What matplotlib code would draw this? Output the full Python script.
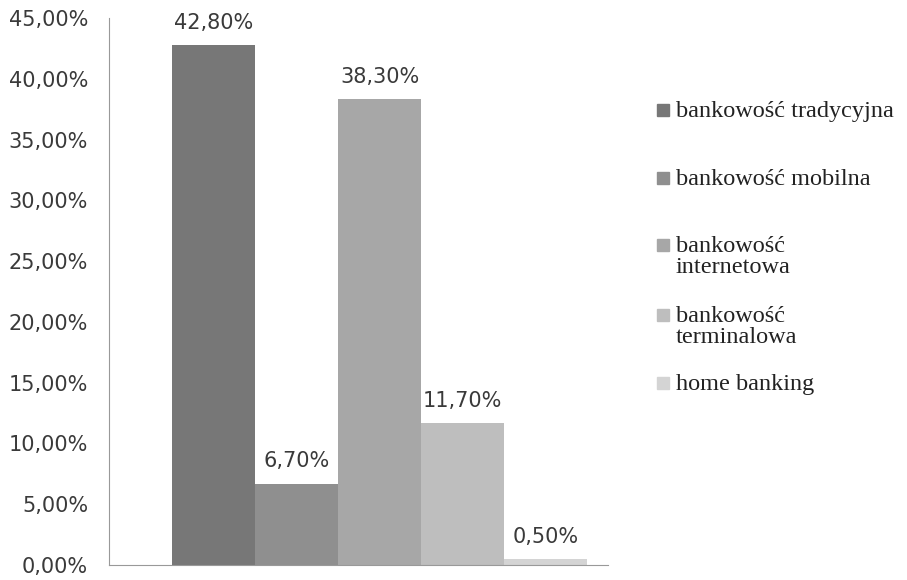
import matplotlib
matplotlib.use("Agg")
import matplotlib.pyplot as plt
from matplotlib.patches import Rectangle
from matplotlib.ticker import FuncFormatter

categories = ["bankowość tradycyjna", "bankowość mobilna", "bankowość\ninternetowa",
              "bankowość\nterminalowa", "home banking"]
values = [42.8, 6.7, 38.3, 11.7, 0.5]
colors = ["#777777", "#8f8f8f", "#a7a7a7", "#bebebe", "#d4d4d4"]
y_ticks = [0, 5, 10, 15, 20, 25, 30, 35, 40, 45]

W, H = 907, 580
fig = plt.figure(figsize=(W / 100, H / 100), dpi=100)
ax = fig.add_axes([109 / W, 1 - 565 / H, (608 - 109) / W, (565 - 18) / H])

num_font = ['DejaVu Sans']
txt_font = ['Liberation Serif', 'DejaVu Serif']

for i, (c, v, col) in enumerate(zip(categories, values, colors)):
    ax.bar(i, v, width=1.0, color=col, label=c)
    lbl = f"{v:.2f}".replace(".", ",") + "%"
    ax.text(i, v + 1.0, lbl, ha="center", va="bottom", fontsize=15,
            color="#3a3a3a", family=num_font)

ax.set_xlim(-1.26, 4.75)
ax.set_ylim(0, 45)
ax.set_yticks(y_ticks)
ax.yaxis.set_major_formatter(FuncFormatter(lambda x, p: f"{x:.2f}".replace(".", ",") + "%"))
ax.set_xticks([])
ax.tick_params(axis="y", length=0, labelsize=15, pad=15, labelcolor="#3a3a3a")
for t in ax.get_yticklabels():
    t.set_family(num_font)
    t.set_verticalalignment("center_baseline")
for s in ["top", "right"]:
    ax.spines[s].set_visible(False)
ax.spines["left"].set_color("#999999")
ax.spines["bottom"].set_color("#999999")

# legend entries (Excel-style layout, first line aligned with marker)
leg_y = [110, 178, 245, 315, 383]
for lab, col, yp in zip(categories, colors, leg_y):
    fig.patches.append(Rectangle((657 / W, 1 - (yp + 6) / H), 12 / W, 12 / H,
                                 transform=fig.transFigure, color=col))
    fig.text(676 / W, 1 - (yp - 9) / H, lab, ha="left", va="top", fontsize=17.5,
             color="#222222", family=txt_font, linespacing=1.0)

fig.savefig("out.png", dpi=100)
